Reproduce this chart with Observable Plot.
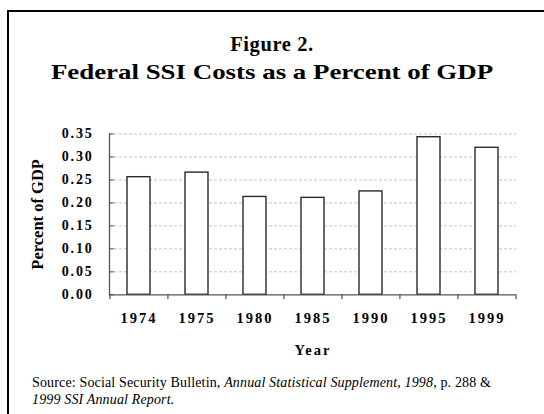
<!DOCTYPE html>
<html><head><meta charset="utf-8">
<script src="https://cdn.jsdelivr.net/npm/d3@7"></script>
<script src="https://cdn.jsdelivr.net/npm/@observablehq/plot@0.6"></script>
<style>
html,body{margin:0;padding:0;background:#fff;width:544px;height:414px;overflow:hidden;}
#wrap{position:relative;width:544px;height:414px;overflow:hidden;font-family:"Liberation Serif","Times New Roman",serif;color:#000;}
#frame{position:absolute;left:7px;top:10px;width:600px;height:500px;border:2px solid #000;box-sizing:border-box;}
.t{position:absolute;left:0;width:544px;text-align:center;font-weight:bold;white-space:nowrap;line-height:1;}
#t1{top:34px;font-size:20.5px;letter-spacing:0.6px;}
#t2{top:62px;font-size:21px;transform:scaleX(1.28);transform-origin:272px 50%;}
#chart{position:absolute;left:0;top:110px;}
#source{position:absolute;left:32px;top:374px;font-size:14px;line-height:17px;letter-spacing:0.15px;white-space:nowrap;font-family:"Liberation Serif","Times New Roman",serif;}
</style></head>
<body>
<div id="wrap">
  <div id="frame"></div>
  <div class="t" id="t1"></div>
  <div class="t" id="t2"></div>
  <div id="chart"></div>
  <div id="source"></div>
</div>
<script>
const titleLine1 = "Figure 2.";
const titleLine2 = "Federal SSI Costs as a Percent of GDP";
const years = ["1974", "1975", "1980", "1985", "1990", "1995", "1999"];
const pctGDP = [0.256, 0.266, 0.213, 0.211, 0.225, 0.343, 0.320];
const yTicks = [0, 0.05, 0.10, 0.15, 0.20, 0.25, 0.30, 0.35];
const yLabel = "Percent of GDP";
const xLabel = "Year";

document.getElementById("t1").textContent = titleLine1;
document.getElementById("t2").textContent = titleLine2;
document.getElementById("source").innerHTML =
  "Source: Social Security Bulletin, <i>Annual Statistical Supplement, 1998</i>, p. 288 &amp;<br><i>1999 SSI Annual Report.</i>";

const data = years.map((y, i) => ({year: y, value: pctGDP[i]}));

const W = 544, H = 260, ML = 109, MR = 28, MT = 23.5, MB = 75.7;
const step = (W - ML - MR) / years.length;
const lastYear = [years[years.length - 1]];

const plot = Plot.plot({
  width: W, height: H,
  marginLeft: ML, marginRight: MR, marginTop: MT, marginBottom: MB,
  style: {fontFamily: "'Liberation Serif', 'Times New Roman', serif", background: "transparent", overflow: "visible", color: "#000"},
  x: {domain: years, paddingInner: 0.6, paddingOuter: 0.3, label: null},
  y: {domain: [0, 0.35], label: null},
  marks: [
    Plot.gridY(yTicks.slice(1), {stroke: "#c4c4c4", strokeOpacity: 1, strokeDasharray: "3,2"}),
    Plot.barY(data, {x: "year", y: "value", fill: "#fff", stroke: "#2a2a2a", strokeWidth: 1.4}),
    Plot.ruleY([0], {stroke: "#555", strokeWidth: 1.3}),
    Plot.frame({anchor: "left", stroke: "#555", strokeWidth: 1.3}),
    Plot.ruleX(years, {x: d => d, y1: 0, y2: 0, insetBottom: -5, dx: -step / 2, stroke: "#555", strokeWidth: 1.2}),
    Plot.ruleX(lastYear, {x: d => d, y1: 0, y2: 0, insetBottom: -5, dx: step / 2, stroke: "#555", strokeWidth: 1.2}),
    Plot.axisY(yTicks, {tickSize: -5, tickPadding: 21, tickFormat: d3.format(".2f"), fontSize: 14, fontWeight: "bold", stroke: "#555", label: null}),
    Plot.axisX({tickSize: 0, tickPadding: 18, fontSize: 14.5, fontWeight: "bold", label: null}),
    Plot.text([yLabel], {text: d => d, frameAnchor: "left", rotate: -90, dx: -72, fontSize: 16.5, fontWeight: "bold", textAnchor: "middle", lineAnchor: "middle"}),
    Plot.text([xLabel], {text: d => d, frameAnchor: "bottom", dy: 56, fontSize: 14.5, fontWeight: "bold", textAnchor: "middle", lineAnchor: "middle"})
  ]
});
document.getElementById("chart").appendChild(plot);

const svg = d3.select(plot);
svg.selectAll('g[aria-label="y-axis tick label"] text').style("letter-spacing", "1.8px");
svg.selectAll('g[aria-label="x-axis tick label"] text').style("letter-spacing", "2px");
svg.selectAll("text").filter(function () { return this.textContent === xLabel; }).style("letter-spacing", "2px");
</script>
</body></html>
